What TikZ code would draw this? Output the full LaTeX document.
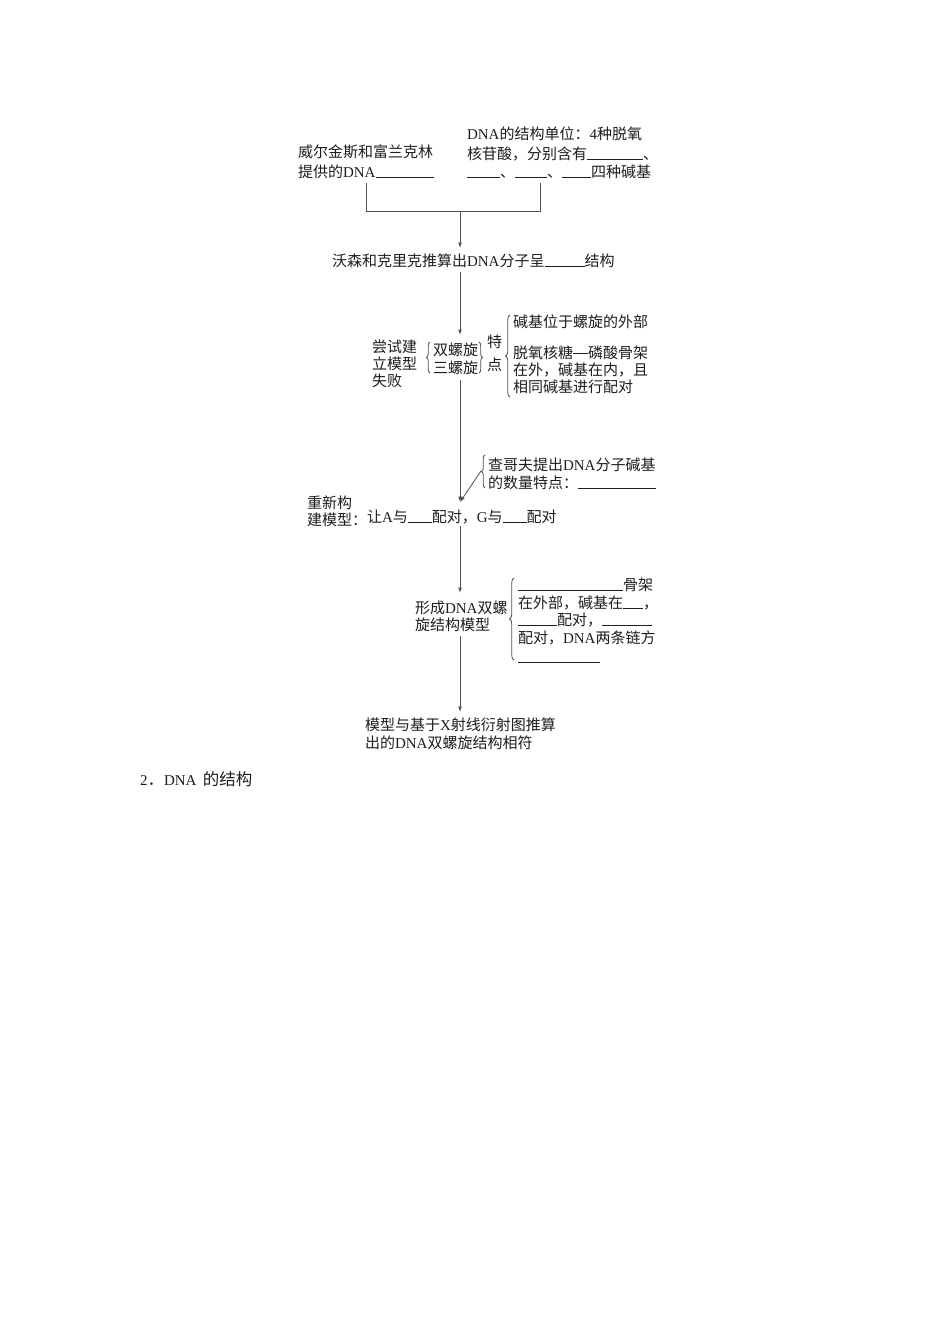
\documentclass[tikz,border=0pt]{standalone}
\usepackage{fontspec}
\setmainfont{Noto Sans CJK SC}
\newfontfamily\latf{Liberation Serif}
\newcommand\La[1]{{\latf #1}}
\newcommand\blank[1]{\rule[-0.5pt]{#1pt}{0.6pt}}
\usetikzlibrary{decorations.pathreplacing,arrows.meta}
\definecolor{txtc}{HTML}{1E1E1E}
\definecolor{linec}{HTML}{505050}
\begin{document}
\begin{tikzpicture}[x=1pt,y=-1pt,
  every node/.style={inner sep=0pt,outer sep=0pt,anchor=base west,text=txtc,
    font=\fontsize{15}{18}\selectfont},
  ln/.style={draw=linec,line width=0.8pt},
  arr/.style={ln,-{Latex[length=5.5pt,width=3.8pt]}},
  brc/.style={ln,decorate,decoration={brace,amplitude=#1}},
  brc/.default=4pt]
\fill[white] (0,0) rectangle (950,1344);
% top texts
\node (w1) at (298,157) {威尔金斯和富兰克林};
\node (w2) at (298,177) {提供的\La{DNA}\blank{58}};
\node (d1) at (467,139.5) {\La{DNA}的结构单位：\La{4}种脱氧};
\node (d2) at (467,159.5) {核苷酸，分别含有\blank{56}、};
\node (d3) at (467,177.5) {\blank{33}、\blank{32}、\blank{29}四种碱基};
% bracket
\coordinate (cL) at (366,183);
\coordinate (cLb) at (366,211);
\coordinate (cR) at (540,183);
\coordinate (cRb) at (540,211);
\coordinate (cM) at (460,211);
\coordinate (t1) at (460,248);
\draw[ln] (cL) -- (cLb) -- (cRb) -- (cR);
\draw[arr] (cM) -- (t1);
\node (ws) at (332,266) {沃森和克里克推算出\La{DNA}分子呈\blank{40}结构};
\coordinate (s2) at (460,272);
\coordinate (t2) at (460,335);
\draw[arr] (s2) -- (t2);
% trial
\node (f1) at (372,352) {尝试建};
\node (f2) at (372,369) {立模型};
\node (f3) at (372,386) {失败};
\coordinate (b1a) at (430,373);
\coordinate (b1b) at (430,342);
\draw[brc=3.5pt] (b1a) -- (b1b);
\node (h1) at (433,355.5) {双螺旋};
\node (h2) at (433,373.5) {三螺旋};
\coordinate (b2a) at (479,342);
\coordinate (b2b) at (479,373);
\draw[brc=3.5pt] (b2a) -- (b2b);
\node (k1) at (487,347.5) {特};
\node (k2) at (487,370.5) {点};
\coordinate (b3a) at (510,397);
\coordinate (b3b) at (510,315);
\draw[brc=4.5pt] (b3a) -- (b3b);
\node (r1) at (513,327.5) {碱基位于螺旋的外部};
\node (r2) at (513,358.5) {脱氧核糖\rule[5pt]{15pt}{0.8pt}磷酸骨架};
\node (r3) at (513,375.5) {在外，碱基在内，且};
\node (r4) at (513,392.5) {相同碱基进行配对};
\coordinate (s3) at (460,380);
\coordinate (t3) at (460,502);
\draw[arr] (s3) -- (t3);
% Chargaff
\coordinate (b4a) at (485,488);
\coordinate (b4b) at (485,455);
\draw[brc=3.5pt] (b4a) -- (b4b);
\node (c1) at (488,470.5) {查哥夫提出\La{DNA}分子碱基};
\node (c2) at (488,488.5) {的数量特点：\blank{78}};
\coordinate (s4) at (481,471);
\draw[arr] (s4) -- (t3);
% rebuild
\node (n1) at (307,508.5) {重新构};
\node (n2) at (307,525.5) {建模型：};
\node (p1) at (367,522.5) {让\La{A}与\blank{24}配对，\La{G}与\blank{24}配对};
\coordinate (s5) at (460,526);
\coordinate (t5) at (460,593);
\draw[arr] (s5) -- (t5);
% model
\node (m1) at (415,613.5) {形成\La{DNA}双螺};
\node (m2) at (415,630.5) {旋结构模型};
\coordinate (b5a) at (514,660);
\coordinate (b5b) at (514,578);
\draw[brc=4.5pt] (b5a) -- (b5b);
\node (q1) at (518,590) {\blank{105}骨架};
\node (q2) at (518,608) {在外部，碱基在\blank{20}，};
\node (q3) at (518,625.5) {\blank{39}配对，\blank{50}};
\node (q4) at (518,643.5) {配对，\La{DNA}两条链方};
\node (q5) at (518,662.5) {\blank{82}};
\coordinate (s6) at (460,636);
\coordinate (t6) at (460,712);
\draw[arr] (s6) -- (t6);
% final
\node (e1) at (365,730.5) {模型与基于\La{X}射线衍射图推算};
\node (e2) at (365,748.5) {出的\La{DNA}双螺旋结构相符};
\node[font=\fontsize{16.5}{19}\selectfont] (hd) at (140,785.5)
  {{\latf\fontsize{15}{18}\selectfont 2}．{\latf\fontsize{15}{18}\selectfont DNA}\hspace{6.5pt}的结构};
\end{tikzpicture}
\end{document}
